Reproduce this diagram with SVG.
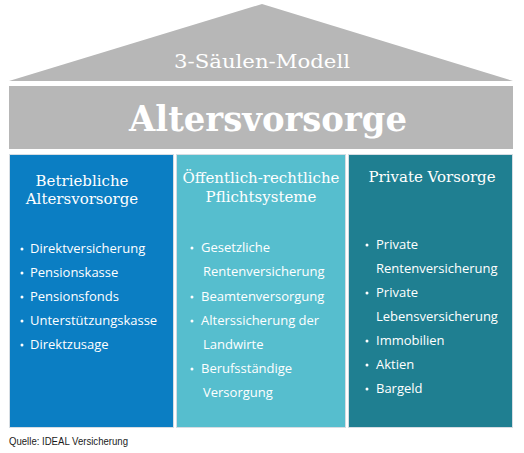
<svg xmlns="http://www.w3.org/2000/svg" width="524" height="453" viewBox="0 0 524 453">
<style>
.roof{fill:#b7b7b7}
.col{stroke:#d6dde3;stroke-width:1}
.head{font-family:"DejaVu Serif","Liberation Serif",serif;font-size:15px;fill:#ffffff;text-anchor:middle}
.item{font-family:"Open Sans","Noto Sans",sans-serif;font-size:13px;fill:#ffffff}
.dot{fill:#ffffff}
</style>
<rect width="524" height="453" fill="#ffffff"/>
<g id="roof">
<polygon class="roof" points="262,4 513,81 9,81"/>
<text x="262" y="68" text-anchor="middle" font-family="DejaVu Serif,Liberation Serif,serif" font-size="19" fill="#ffffff" textLength="176" lengthAdjust="spacingAndGlyphs">3-Säulen-Modell</text>
</g>
<g id="band">
<rect class="roof" x="9" y="86" width="504" height="63"/>
<text x="268" y="131" text-anchor="middle" font-family="DejaVu Serif,Liberation Serif,serif" font-weight="bold" font-size="36" fill="#ffffff" textLength="278" lengthAdjust="spacingAndGlyphs">Altersvorsorge</text>
</g>
<g id="col-betrieblich">
<rect class="col" x="9.5" y="154.5" width="164" height="273" fill="#0b7ec3"/>
<text class="head" x="82" y="186">Betriebliche</text>
<text class="head" x="82" y="204">Altersvorsorge</text>
<g class="item">
<circle class="dot" cx="22" cy="249" r="1.5"/><text x="30" y="253">Direktversicherung</text>
<circle class="dot" cx="22" cy="273" r="1.5"/><text x="30" y="277">Pensionskasse</text>
<circle class="dot" cx="22" cy="297" r="1.5"/><text x="30" y="301">Pensionsfonds</text>
<circle class="dot" cx="22" cy="321" r="1.5"/><text x="30" y="325">Unterstützungskasse</text>
<circle class="dot" cx="22" cy="345" r="1.5"/><text x="30" y="349">Direktzusage</text>
</g>
</g>
<g id="col-oeffentlich">
<rect class="col" x="176.5" y="154.5" width="169" height="273" fill="#56bece"/>
<text class="head" x="261" y="183">Öffentlich-rechtliche</text>
<text class="head" x="261" y="202">Pflichtsysteme</text>
<g class="item">
<circle class="dot" cx="192" cy="248" r="1.5"/><text x="201" y="252">Gesetzliche</text>
<text x="203" y="276">Rentenversicherung</text>
<circle class="dot" cx="192" cy="297" r="1.5"/><text x="201" y="301">Beamtenversorgung</text>
<circle class="dot" cx="192" cy="321" r="1.5"/><text x="201" y="325">Alterssicherung der</text>
<text x="203" y="349">Landwirte</text>
<circle class="dot" cx="192" cy="369" r="1.5"/><text x="201" y="373">Berufsständige</text>
<text x="203" y="397">Versorgung</text>
</g>
</g>
<g id="col-privat">
<rect class="col" x="348.5" y="154.5" width="164" height="273" fill="#1f7f91"/>
<text class="head" x="432" y="182">Private Vorsorge</text>
<g class="item">
<circle class="dot" cx="367" cy="245" r="1.5"/><text x="376" y="249">Private</text>
<text x="376" y="273">Rentenversicherung</text>
<circle class="dot" cx="367" cy="293" r="1.5"/><text x="376" y="297">Private</text>
<text x="376" y="321">Lebensversicherung</text>
<circle class="dot" cx="367" cy="341" r="1.5"/><text x="376" y="345">Immobilien</text>
<circle class="dot" cx="367" cy="365" r="1.5"/><text x="376" y="369">Aktien</text>
<circle class="dot" cx="367" cy="389" r="1.5"/><text x="376" y="393">Bargeld</text>
</g>
</g>
<g id="source">
<text x="9" y="445" font-family="Liberation Sans,Arial,sans-serif" font-size="11" fill="#1a1a1a" textLength="119" lengthAdjust="spacingAndGlyphs">Quelle: IDEAL Versicherung</text>
</g>
</svg>
